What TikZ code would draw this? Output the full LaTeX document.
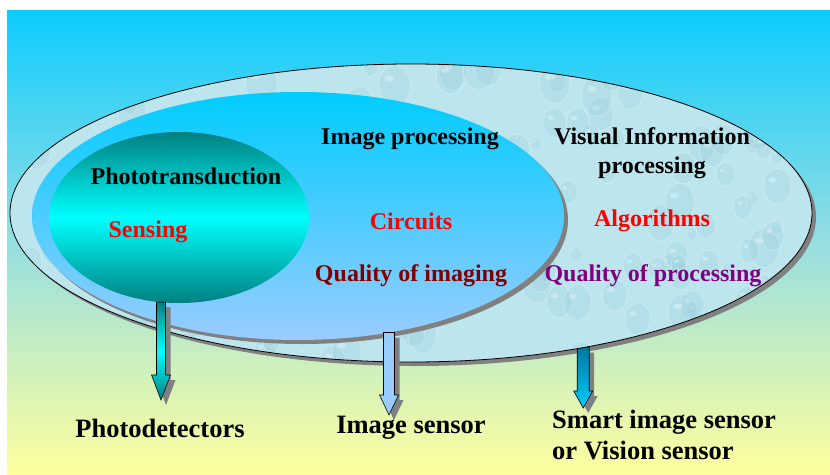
\documentclass[tikz,border=0pt]{standalone}
\usepackage{fontspec}
\setmainfont{Liberation Serif}
\usetikzlibrary{shapes.geometric,calc}

\definecolor{bgtop}{RGB}{12,204,255}
\definecolor{bgmid}{RGB}{150,222,225}
\definecolor{bgbot}{RGB}{255,255,158}
\definecolor{ringblue}{RGB}{189,229,238}
\definecolor{ringdark}{RGB}{125,190,208}
\definecolor{procbluetop}{RGB}{0,204,255}
\definecolor{procbluebot}{RGB}{153,204,255}
\definecolor{tealdark}{RGB}{0,128,128}
\definecolor{cyanbright}{RGB}{0,255,255}
\definecolor{smarttop}{RGB}{0,120,160}
\definecolor{smartbot}{RGB}{0,204,255}
\definecolor{shadowgray}{RGB}{128,128,128}
\definecolor{darkred}{RGB}{128,0,0}
\definecolor{purpletxt}{RGB}{128,0,128}

\pgfdeclareverticalshading{backdrop}{100bp}{color(0bp)=(bgbot); color(25bp)=(bgbot); color(50bp)=(bgmid); color(75bp)=(bgtop); color(100bp)=(bgtop)}

\pgfdeclarelayer{bglayer}
\pgfdeclarelayer{behind}
\pgfsetlayers{bglayer,behind,main}

% block arrow from a start point straight down to the level of a tip point
% #1 options, #2 start, #3 tip, #4 shaft half width, #5 head half width, #6 head length
\newcommand\blockarrow[6][]{%
  \path[#1] let \p1=(#2), \p2=(#3) in
    (\x1-#4,\y1) -- (\x1+#4,\y1) -- (\x1+#4,\y2+#6) -- (\x1+#5,\y2+#6)
    -- (\x1,\y2) -- (\x1-#5,\y2+#6) -- (\x1-#4,\y2+#6) -- cycle;}

% same outline, shifted, as a flat grey shadow
\newcommand\arrowshadow[5]{%
  \fill[shadowgray] let \p1=(#1), \p2=(#2) in
    (\x1-#3+5pt,\y1-5pt) -- (\x1+#3+5pt,\y1-5pt) -- (\x1+#3+5pt,\y2+#5-5pt) -- (\x1+#4+5pt,\y2+#5-5pt)
    -- (\x1+5pt,\y2-5pt) -- (\x1-#4+5pt,\y2+#5-5pt) -- (\x1-#3+5pt,\y2+#5-5pt) -- cycle;}

\begin{document}
\begin{tikzpicture}[x=1pt,y=-1pt,
  zone/.style={ellipse,inner sep=0pt,outer sep=0pt},
  txt/.style={inner sep=0pt,font=\fontsize{24}{29}\selectfont\bfseries},
  lab/.style={inner sep=0pt,font=\fontsize{26.5}{30.5}\selectfont\bfseries},
  arrowone/.style={draw=black,line width=0.6pt,top color=tealdark,bottom color=tealdark,middle color=cyanbright},
  arrowtwo/.style={draw=black,line width=0.6pt,fill=procbluebot},
  arrowthree/.style={draw=black,line width=0.6pt,top color=smarttop,bottom color=smartbot}]

\useasboundingbox (0,0) rectangle (830,474);
\begin{pgfonlayer}{bglayer}
  \fill[white] (0,0) rectangle (830,474);
  \shade[shading=backdrop] (7,10) rectangle (830,474);
  % shadow of the outer zone
  \fill[shadowgray] (415,217) ellipse [x radius=401pt, y radius=149pt];
\end{pgfonlayer}

% outer zone: visual information processing
\node[zone,minimum width=802pt,minimum height=298pt,fill=ringblue] (outer) at (411,213) {};

% water-drop texture inside the outer zone
\begin{scope}
  \clip (outer.center) ellipse [x radius=400.5pt, y radius=148.5pt];
  \pgfmathsetseed{17}
  \foreach \k in {1,...,170}{
    \pgfmathsetmacro\bx{15+rnd*800}
    \pgfmathsetmacro\by{62+rnd*300}
    \pgfmathsetmacro\br{5+rnd*11}
    \pgfmathsetmacro\bry{1.3*\br}
    \fill[ringdark,opacity=0.14] (\bx,\by) ellipse [x radius=\br pt, y radius=\bry pt];
    \draw[white,opacity=0.3,line width=0.7pt] (\bx,\by) ellipse [x radius=\br pt, y radius=\bry pt];
    \fill[white,opacity=0.3] (\bx-0.35*\br,\by-0.45*\br) ellipse [x radius=0.3*\br pt, y radius=0.2*\br pt];
  }
\end{scope}
\draw[black,line width=0.8pt] (outer.center) ellipse [x radius=401pt, y radius=149pt];

% middle zone: image processing, with its shadow
\fill[shadowgray] (302,220) ellipse [x radius=266pt, y radius=124pt];
\node[zone,minimum width=532pt,minimum height=248pt,top color=procbluetop,bottom color=procbluebot] (inner) at (298,216) {};

% core zone: phototransduction
\node[zone,minimum width=260pt,minimum height=171pt,top color=tealdark,bottom color=tealdark,middle color=cyanbright] (core) at (179,217.5) {};

% texts inside the zones
\node[txt] (photo) at (186,176) {Phototransduction};
\node[txt,text=red] (sensing) at (148,232) {Sensing};
\node[txt] (improc) at (410,139) {Image processing};
\node[txt,text=red] (circuits) at (411,221) {Circuits};
\node[txt,text=darkred] (qimg) at (411,276) {Quality of imaging};
\node[txt,align=center] (visual) at (652,153) {Visual Information\\processing};
\node[txt,text=red] (algo) at (652,221) {Algorithms};
\node[txt,text=purpletxt] (qproc) at (653,276) {Quality of processing};

% outcome labels
\node[lab] (pd) at (160,428) {Photodetectors};
\node[lab] (is) at (411,428) {Image sensor};
\node[lab,align=left,anchor=west] (smart) at (552,435) {Smart image sensor\\or Vision sensor};

% arrow tips
\coordinate (t1) at (160.5,400);
\coordinate (t2) at (388.5,415);
\coordinate (t3) at (579,408);

% arrows from each zone to its outcome
\arrowshadow{core.-102.3}{t1}{4.5pt}{9.5pt}{25pt}
\blockarrow[arrowone]{core.-102.3}{t1}{4.5pt}{9.5pt}{25pt}
\arrowshadow{inner.-52.2}{t2}{5.5pt}{9.5pt}{20pt}
\blockarrow[arrowtwo]{inner.-52.2}{t2}{5.5pt}{9.5pt}{20pt}
\begin{pgfonlayer}{behind}
  \arrowshadow{outer.-38.85}{t3}{6pt}{9.5pt}{17pt}
  \blockarrow[arrowthree]{outer.-38.85}{t3}{6pt}{9.5pt}{17pt}
\end{pgfonlayer}

\end{tikzpicture}
\end{document}
